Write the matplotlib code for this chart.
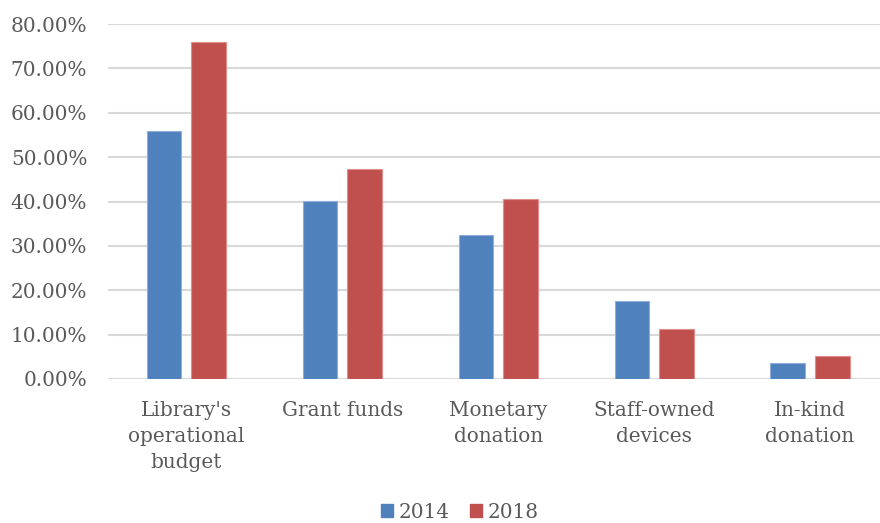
import matplotlib
matplotlib.use("Agg")
import matplotlib.pyplot as plt
import numpy as np
from matplotlib.ticker import FuncFormatter
from matplotlib.patches import Patch

categories = ["Library's\noperational\nbudget", "Grant funds", "Monetary\ndonation",
              "Staff-owned\ndevices", "In-kind\ndonation"]
values_2014 = [0.559, 0.402, 0.325, 0.175, 0.037]
values_2018 = [0.759, 0.473, 0.405, 0.113, 0.051]
series_labels = ["2014", "2018"]
y_ticks = [0.0, 0.1, 0.2, 0.3, 0.4, 0.5, 0.6, 0.7, 0.8]

blue = "#4F81BD"
red = "#C0504D"
text_color = "#595959"
grid_color = "#D9D9D9"

plt.rcParams["font.family"] = ["DejaVu Serif"]

fig = plt.figure(figsize=(8.8, 5.23), dpi=100)
W, H = 880, 523
left, right = 108.2, 888.0
top, bottom = 24.0, 379.0
ax = fig.add_axes([left / W, (H - bottom) / H, (right - left) / W, (bottom - top) / H])

x = np.arange(len(categories))
width = 0.221
offset = 0.143
ax.bar(x - offset, values_2014, width, color=blue, edgecolor="#8FAEDB", linewidth=0.8, zorder=3)
ax.bar(x + offset, values_2018, width, color=red, edgecolor="#E08E8C", linewidth=0.8, zorder=3)

ax.set_xlim(-0.5, len(categories) - 0.5)
ax.set_ylim(0, 0.8)
ax.set_yticks(y_ticks)
ax.yaxis.set_major_formatter(FuncFormatter(lambda v, p: f"{v * 100:.2f}%"))
ax.set_xticks(x)
ax.set_xticklabels(categories, linespacing=1.45)

ax.grid(axis="y", color=grid_color, linewidth=1.5, zorder=0)
for s in ax.spines.values():
    s.set_visible(False)
ax.tick_params(axis="both", length=0, colors=text_color, labelsize=14.4)
ax.tick_params(axis="y", pad=15)
ax.tick_params(axis="x", pad=16)

handles = [Patch(facecolor=blue, edgecolor=blue), Patch(facecolor=red, edgecolor=red)]
leg = fig.legend(handles, series_labels, loc="center", bbox_to_anchor=(460 / W, (H - 512) / H),
                 ncol=2, frameon=False, fontsize=14.4, handlelength=0.6, handleheight=0.6,
                 handletextpad=0.3, columnspacing=1.0)
for t in leg.get_texts():
    t.set_color(text_color)

fig.savefig("out.png", dpi=100)
